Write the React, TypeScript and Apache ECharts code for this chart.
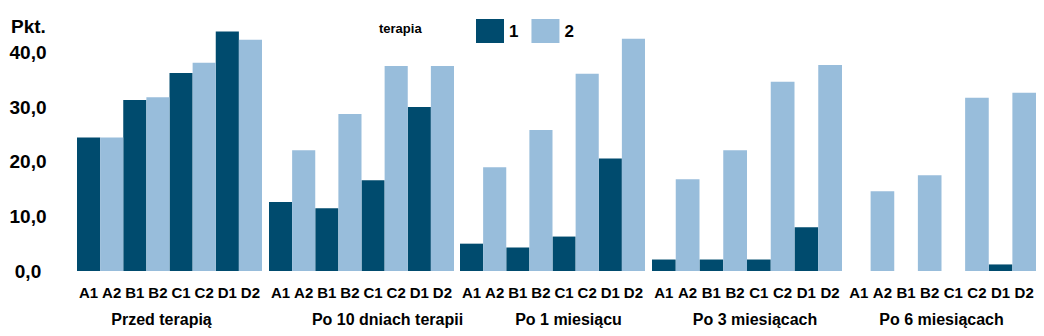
import React, { useEffect, useRef } from "react";
import * as echarts from "echarts";

const categories = ["A1", "A2", "B1", "B2", "C1", "C2", "D1", "D2"];
const periods = ["Przed terapią", "Po 10 dniach terapii", "Po 1 miesiącu", "Po 3 miesiącach", "Po 6 miesiącach"];
// therapy 1 values for A1, B1, C1, D1 in each period
const therapy1 = [
  [24.4, 31.3, 36.2, 43.8],
  [12.6, 11.5, 16.6, 30.0],
  [5.0, 4.3, 6.3, 20.6],
  [2.1, 2.1, 2.1, 8.0],
  [0, 0, 0, 1.2],
];
// therapy 2 values for A2, B2, C2, D2 in each period
const therapy2 = [
  [24.4, 31.8, 38.1, 42.3],
  [22.1, 28.7, 37.5, 37.5],
  [19.0, 25.8, 36.1, 42.5],
  [16.8, 22.1, 34.6, 37.7],
  [14.6, 17.5, 31.7, 32.6],
];
const yTicks = [0, 10, 20, 30, 40];

const DARK = "#004b6e";
const LIGHT = "#98bddb";
const FONT = "'Liberation Sans', Arial, sans-serif";

const gridLefts = [77, 269, 460, 652, 847];
const gridWidths = [185, 185, 185, 190, 189];
const nameShift = [-8, 26, 16, 8, 0];

export default function App() {
  const ref = useRef<HTMLDivElement>(null);
  useEffect(() => {
    if (!ref.current) return;
    const chart = echarts.init(ref.current, undefined, { renderer: "svg" });
    const grids: any[] = [];
    const xAxes: any[] = [];
    const yAxes: any[] = [];
    const series: any[] = [];
    periods.forEach((p, g) => {
      grids.push({ left: gridLefts[g], width: gridWidths[g], top: 25, bottom: 65 });
      const s = nameShift[g];
      xAxes.push({
        type: "category",
        gridIndex: g,
        data: categories,
        name: p,
        nameLocation: "middle",
        nameGap: 40,
        nameTextStyle: {
          fontFamily: FONT,
          fontWeight: "bold",
          fontSize: 16,
          color: "#000",
          padding: s >= 0 ? [0, 0, 0, s * 2] : [0, -s * 2, 0, 0],
        },
        axisLine: { show: false },
        axisTick: { show: false },
        axisLabel: {
          interval: 0,
          margin: 14,
          fontFamily: FONT,
          fontWeight: "bold",
          fontSize: 15,
          color: "#000",
        },
      });
      yAxes.push({
        type: "value",
        gridIndex: g,
        min: 0,
        max: 45,
        interval: 10,
        show: g === 0,
        splitLine: { show: false },
        axisLine: { show: false },
        axisTick: { show: false },
        axisLabel: {
          show: g === 0,
          align: "center",
          margin: 49,
          fontFamily: FONT,
          fontWeight: "bold",
          fontSize: 19,
          color: "#000",
          formatter: (v: number) => (yTicks.includes(v) ? v.toFixed(1).replace(".", ",") : ""),
        },
      });
      const d1: (number | null)[] = [];
      const d2: (number | null)[] = [];
      categories.forEach((c, i) => {
        const k = Math.floor(i / 2);
        if (i % 2 === 0) {
          d1.push(therapy1[g][k]);
          d2.push(null);
        } else {
          d1.push(null);
          d2.push(therapy2[g][k]);
        }
      });
      series.push({
        name: "1",
        type: "bar",
        xAxisIndex: g,
        yAxisIndex: g,
        data: d1,
        barWidth: "100%",
        barGap: "-100%",
        itemStyle: { color: DARK },
      });
      series.push({
        name: "2",
        type: "bar",
        xAxisIndex: g,
        yAxisIndex: g,
        data: d2,
        barWidth: "100%",
        barGap: "-100%",
        itemStyle: { color: LIGHT },
      });
    });
    chart.setOption({
      animation: false,
      title: {
        text: "terapia",
        left: 379,
        top: 22,
        padding: 0,
        textStyle: { fontFamily: FONT, fontWeight: "bold", fontSize: 13, color: "#000" },
      },
      legend: {
        data: ["1", "2"],
        left: 476,
        top: 19,
        padding: 0,
        icon: "rect",
        itemWidth: 28,
        itemHeight: 24,
        itemGap: 13,
        selectedMode: false,
        textStyle: { fontFamily: FONT, fontWeight: "bold", fontSize: 17, color: "#000", padding: [0, 0, 0, 0] },
      },
      graphic: [
        {
          type: "text",
          left: 11,
          top: 17,
          style: { text: "Pkt.", font: `bold 19px ${FONT}`, fill: "#000" },
        },
      ],
      grid: grids,
      xAxis: xAxes,
      yAxis: yAxes,
      series,
    });
    return () => chart.dispose();
  }, []);
  return (
    <div
      ref={ref}
      style={{ position: "fixed", left: 0, top: 0, width: 1044, height: 336, background: "#fff" }}
    />
  );
}
